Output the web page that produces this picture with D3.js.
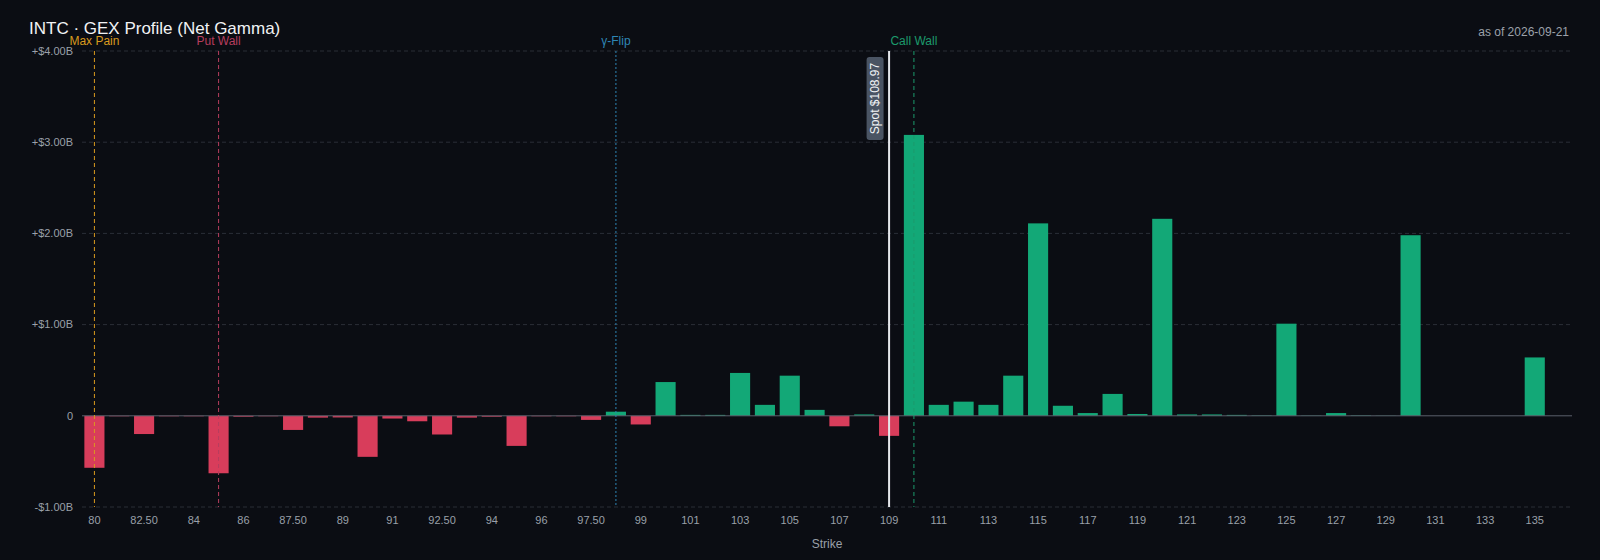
<!DOCTYPE html>
<html>
<head>
<meta charset="utf-8">
<script src="https://cdn.jsdelivr.net/npm/d3@7"></script>
<style>
  html, body { margin: 0; padding: 0; background: #0b0d13; overflow: hidden; }
  #chart { width: 1600px; height: 560px; }
  #chart svg { display: block; }
  text { font-family: "Liberation Sans", Arial, sans-serif; }
</style>
</head>
<body>
<div id="chart"></div>
<script>
// Strikes (categorias del eje X)
const strikes = [
  80, 81, 82.5, 83, 84, 85, 86, 87, 87.5, 88, 89, 90, 91, 92, 92.5, 93, 94, 95, 96, 97, 97.5, 98,
  99, 100, 101, 102, 103, 104, 105, 106, 107, 108, 109, 110, 111, 112, 113, 114, 115, 116, 117,
  118, 119, 120, 121, 122, 123, 124, 125, 126, 127, 128, 129, 130, 131, 132, 133, 134, 135, 136
];

// Net gamma por strike, en miles de millones de $
const netGamma = [
  -0.57, -0.005, -0.20, -0.005, -0.005, -0.63, -0.01, -0.005, -0.155, -0.02, -0.018, -0.45, -0.03, -0.06, -0.205, -0.02, -0.01, -0.33, -0.005, -0.005, -0.045, 0.045,
  -0.095, 0.37, 0.01, 0.01, 0.47, 0.12, 0.44, 0.065, -0.115, 0.015, -0.22, 3.08, 0.12, 0.155, 0.12, 0.44, 2.11, 0.11, 0.03,
  0.24, 0.02, 2.16, 0.015, 0.015, 0.01, 0.005, 1.01, 0.003, 0.03, 0.005, 0.002, 1.98, 0, 0, 0, 0, 0.64, 0
];

// Niveles marcados
const levelNames = ['Max Pain', 'Put Wall', 'γ-Flip', 'Call Wall'];
const levelStrikes = [80, 85, 98, 110];
const levelColors = ['#d99a1e', '#b73d5e', '#2f86b5', '#1c9a6c'];
const levelDash = ['4,3', '4,3', '2,2', '4,3'];
const spotPrice = 108.97;

const ticker = 'INTC';
const asOf = '2026-09-21';

const width = 1600;
const height = 560;
const margin = { top: 51, right: 28, bottom: 53, left: 82 };
const innerWidth = width - margin.left - margin.right;
const innerHeight = height - margin.top - margin.bottom;

const svg = d3.select('#chart')
  .append('svg')
  .attr('width', width)
  .attr('height', height)
  .attr('viewBox', `0 0 ${width} ${height}`);

svg.append('rect')
  .attr('width', width)
  .attr('height', height)
  .attr('fill', '#0b0d13');

const g = svg.append('g')
  .attr('transform', `translate(${margin.left}, ${margin.top})`);

// Escalas
const x = d3.scaleBand()
  .domain(strikes)
  .range([0, innerWidth])
  .paddingInner(0.19)
  .paddingOuter(0.095);

const xc = s => x(s) + x.bandwidth() / 2;

const y = d3.scaleLinear()
  .domain(d3.extent(netGamma))
  .range([innerHeight, 0])
  .nice(5);

const fmtB = v => v === 0 ? '0' : (v > 0 ? '+' : '-') + '$' + Math.abs(v).toFixed(2) + 'B';

// Grilla horizontal
const yTicks = y.ticks(5);
g.selectAll('.grid')
  .data(yTicks.filter(t => t !== 0))
  .enter()
  .append('line')
  .attr('class', 'grid')
  .attr('x1', 0)
  .attr('x2', innerWidth)
  .attr('y1', d => y(d))
  .attr('y2', d => y(d))
  .attr('stroke', '#2a2e37')
  .attr('stroke-dasharray', '4,3');

// Etiquetas eje Y
g.selectAll('.ylab')
  .data(yTicks)
  .enter()
  .append('text')
  .attr('class', 'ylab')
  .attr('x', -9)
  .attr('y', d => y(d))
  .attr('dy', '0.35em')
  .attr('text-anchor', 'end')
  .attr('font-size', 11)
  .attr('fill', '#9aa0a9')
  .text(fmtB);

// Barras
g.selectAll('.bar')
  .data(strikes)
  .enter()
  .append('rect')
  .attr('class', 'bar')
  .attr('x', d => x(d))
  .attr('width', x.bandwidth())
  .attr('y', (d, i) => y(Math.max(0, netGamma[i])))
  .attr('height', (d, i) => Math.abs(y(netGamma[i]) - y(0)))
  .attr('fill', (d, i) => netGamma[i] >= 0 ? '#13a877' : '#d83d5b');

// Linea de cero (eje X)
g.append('line')
  .attr('x1', 0)
  .attr('x2', innerWidth)
  .attr('y1', y(0))
  .attr('y2', y(0))
  .attr('stroke', '#5b606b')
  .attr('stroke-width', 1);

// Etiquetas eje X (una de cada dos)
const fmtStrike = s => Number.isInteger(s) ? String(s) : s.toFixed(2);
g.selectAll('.xlab')
  .data(strikes.filter((d, i) => i % 2 === 0))
  .enter()
  .append('text')
  .attr('class', 'xlab')
  .attr('x', d => xc(d))
  .attr('y', innerHeight + 17)
  .attr('text-anchor', 'middle')
  .attr('font-size', 11)
  .attr('fill', '#9aa0a9')
  .text(fmtStrike);

g.append('text')
  .attr('x', innerWidth / 2)
  .attr('y', innerHeight + 41)
  .attr('text-anchor', 'middle')
  .attr('font-size', 12)
  .attr('fill', '#9aa0a9')
  .text('Strike');

// Lineas de niveles
levelNames.forEach((name, i) => {
  const lx = xc(levelStrikes[i]);
  g.append('line')
    .attr('x1', lx)
    .attr('x2', lx)
    .attr('y1', 0)
    .attr('y2', innerHeight)
    .attr('stroke', levelColors[i])
    .attr('stroke-width', 1)
    .attr('stroke-dasharray', levelDash[i]);
  g.append('text')
    .attr('x', lx)
    .attr('y', -6)
    .attr('text-anchor', 'middle')
    .attr('font-size', 12)
    .attr('fill', levelColors[i])
    .text(name);
});

// Spot
const spotStrike = strikes.reduce((a, b) => Math.abs(b - spotPrice) < Math.abs(a - spotPrice) ? b : a);
const sx = xc(spotStrike);
g.append('line')
  .attr('x1', sx)
  .attr('x2', sx)
  .attr('y1', 0)
  .attr('y2', innerHeight)
  .attr('stroke', '#e6e8ec')
  .attr('stroke-width', 2);

const spotLabel = g.append('g')
  .attr('transform', `translate(${sx - 14}, ${6}) rotate(-90)`);
spotLabel.append('rect')
  .attr('x', -83)
  .attr('y', -8.5)
  .attr('width', 83)
  .attr('height', 17)
  .attr('rx', 3)
  .attr('fill', '#4a5463');
spotLabel.append('text')
  .attr('x', -41.5)
  .attr('y', 0)
  .attr('dy', '0.35em')
  .attr('text-anchor', 'middle')
  .attr('font-size', 12)
  .attr('fill', '#f2f4f7')
  .text(`Spot $${spotPrice.toFixed(2)}`);

// Titulo
svg.append('text')
  .attr('x', 29)
  .attr('y', 34)
  .attr('font-size', 17)
  .attr('fill', '#f1f2f4')
  .text(`${ticker} · GEX Profile (Net Gamma)`);

svg.append('text')
  .attr('x', width - 31)
  .attr('y', 36)
  .attr('text-anchor', 'end')
  .attr('font-size', 12)
  .attr('fill', '#9ca1aa')
  .text(`as of ${asOf}`);
</script>
</body>
</html>
